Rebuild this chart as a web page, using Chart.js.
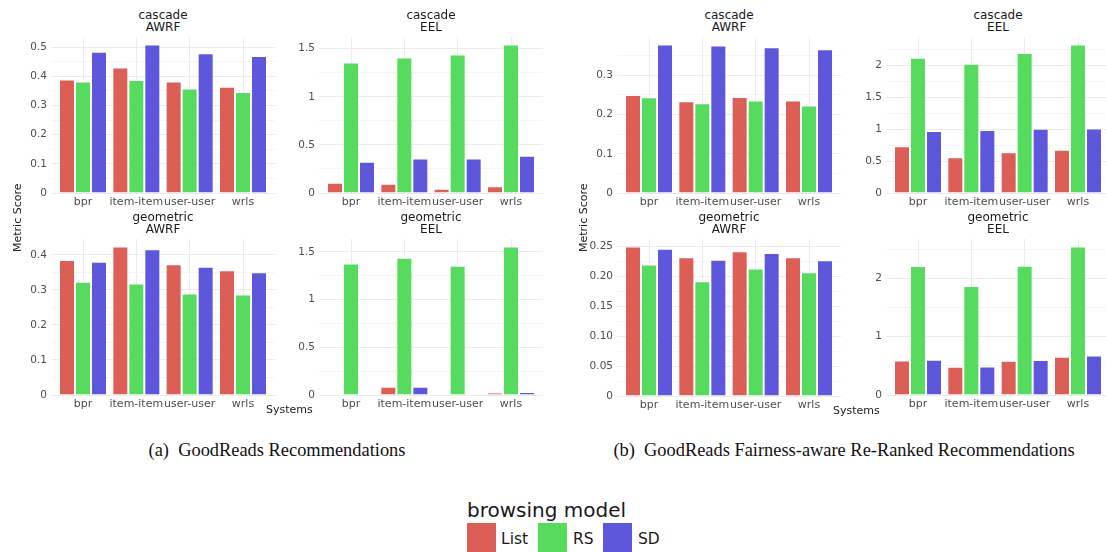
<!DOCTYPE html>
<html>
<head>
<meta charset="utf-8">
<script src="https://cdn.jsdelivr.net/npm/chart.js@4/dist/chart.umd.min.js"></script>
<style>
body { margin: 0; background: #fff; }
#fig { position: relative; width: 1106px; height: 552px; overflow: hidden; font-family: "DejaVu Sans", sans-serif; }
canvas { position: absolute; }
.strip { position: absolute; text-align: center; font-size: 12px; line-height: 12px; color: #1a1a1a; width: 200px; }
.axt { position: absolute; font-size: 11px; color: #1a1a1a; white-space: nowrap; }
.cap { position: absolute; font-family: "Liberation Serif", "DejaVu Serif", serif; font-size: 18.4px; color: #111; white-space: nowrap; transform: translateX(-50%); }
.legtitle { position: absolute; left: 467px; top: 498px; font-size: 20px; color: #1a1a1a; }
.key { position: absolute; top: 523px; width: 29px; height: 29px; }
.keylab { position: absolute; top: 530px; font-size: 15.5px; color: #1a1a1a; }
</style>
</head>
<body>
<div id="fig">
  <div class="legtitle">browsing model</div>
  <div class="key" style="left:467px;background:#DB5F57"></div><div class="keylab" style="left:501px">List</div>
  <div class="key" style="left:538px;background:#57DB5E"></div><div class="keylab" style="left:573px">RS</div>
  <div class="key" style="left:603px;background:#5E57DB"></div><div class="keylab" style="left:638px">SD</div>
</div>
<script>
// systems on the x axis and browsing models (series)
const systems = ['bpr', 'item-item', 'user-user', 'wrls'];
const models = ['List', 'RS', 'SD'];
const modelColors = ['#DB5F57', '#57DB5E', '#5E57DB'];

// (a) GoodReads Recommendations -- rows: List, RS, SD
const grCascadeAWRF = [
    [0.389, 0.430, 0.382, 0.364],
    [0.382, 0.387, 0.358, 0.346],
    [0.484, 0.509, 0.479, 0.469]
];
const grCascadeEEL = [
    [0.107, 0.097, 0.045, 0.069],
    [1.358, 1.410, 1.441, 1.545],
    [0.326, 0.360, 0.360, 0.388]
];
const grGeometricAWRF = [
    [0.385, 0.424, 0.373, 0.356],
    [0.323, 0.318, 0.290, 0.287],
    [0.380, 0.416, 0.366, 0.350]
];
const grGeometricEEL = [
    [0.007, 0.087, 0.005, 0.025],
    [1.378, 1.437, 1.353, 1.556],
    [0.007, 0.087, 0.005, 0.031]
];

// (b) GoodReads Fairness-aware Re-Ranked Recommendations
const rrCascadeAWRF = [
    [0.250, 0.234, 0.245, 0.236],
    [0.244, 0.229, 0.236, 0.223],
    [0.379, 0.376, 0.372, 0.367]
];
const rrCascadeEEL = [
    [0.731, 0.559, 0.637, 0.679],
    [2.120, 2.026, 2.193, 2.329],
    [0.971, 0.987, 1.008, 1.013]
];
const rrGeometricAWRF = [
    [0.250, 0.232, 0.242, 0.232],
    [0.220, 0.192, 0.213, 0.207],
    [0.246, 0.228, 0.239, 0.227]
];
const rrGeometricEEL = [
    [0.593, 0.484, 0.587, 0.655],
    [2.211, 1.869, 2.217, 2.547],
    [0.604, 0.490, 0.598, 0.678]
];

// y tick values and their labels
const ticksTenth = [0, 0.1, 0.2, 0.3, 0.4, 0.5];
const labelsTenth = ['0', '0.1', '0.2', '0.3', '0.4', '0.5'];
const ticksHalf = [0, 0.5, 1, 1.5, 2];
const labelsHalf = ['0', '0.5', '1', '1.5', '2'];
const ticksTwentieth = [0, 0.05, 0.1, 0.15, 0.2, 0.25];
const labelsTwentieth = ['0', '0.05', '0.10', '0.15', '0.20', '0.25'];
const ticksUnit = [0, 1, 2];
const labelsUnit = ['0', '1', '2'];

const YW = 45;   // room for y tick labels
const XH = 22;   // room for x tick labels
const fig = document.getElementById('fig');

// panel layout: plot box in page pixels
const panels = [
    {facet: 'cascade', metric: 'AWRF', data: grCascadeAWRF, ticks: ticksTenth, labels: labelsTenth, left: 51, top: 37, right: 275, bottom: 193},
    {facet: 'cascade', metric: 'EEL', data: grCascadeEEL, ticks: ticksHalf, labels: labelsHalf, left: 319, top: 37, right: 543, bottom: 193},
    {facet: 'geometric', metric: 'AWRF', data: grGeometricAWRF, ticks: ticksTenth, labels: labelsTenth, left: 51, top: 239, right: 275, bottom: 395},
    {facet: 'geometric', metric: 'EEL', data: grGeometricEEL, ticks: ticksHalf, labels: labelsHalf, left: 319, top: 239, right: 543, bottom: 395},
    {facet: 'cascade', metric: 'AWRF', data: rrCascadeAWRF, ticks: ticksTenth, labels: labelsTenth, left: 617, top: 37, right: 841, bottom: 193},
    {facet: 'cascade', metric: 'EEL', data: rrCascadeEEL, ticks: ticksHalf, labels: labelsHalf, left: 886, top: 37, right: 1110, bottom: 193},
    {facet: 'geometric', metric: 'AWRF', data: rrGeometricAWRF, ticks: ticksTwentieth, labels: labelsTwentieth, left: 617, top: 239, right: 841, bottom: 396},
    {facet: 'geometric', metric: 'EEL', data: rrGeometricEEL, ticks: ticksUnit, labels: labelsUnit, left: 886, top: 239, right: 1110, bottom: 395}
];

function addText(cls, text, css) {
    const d = document.createElement('div');
    d.className = cls;
    d.innerHTML = text;
    Object.assign(d.style, css);
    fig.appendChild(d);
    return d;
}

panels.forEach(p => {
    const canvas = document.createElement('canvas');
    const w = p.right - p.left + YW;
    const h = p.bottom - p.top + XH;
    canvas.width = w;
    canvas.height = h;
    canvas.style.left = (p.left - YW) + 'px';
    canvas.style.top = p.top + 'px';
    fig.appendChild(canvas);

    // facet strip title
    addText('strip', p.facet + '<br>' + p.metric, {
        left: ((p.left + p.right) / 2 - 100) + 'px',
        top: (p.top - 28) + 'px'
    });

    const yMax = Math.max(...p.data.flat()) * 1.05;
    // major ticks within range plus minor ticks halfway between them
    const major = p.ticks.filter(v => v <= yMax);
    const step = major[1] - major[0];
    const tickList = [];
    major.forEach((v, i) => {
        tickList.push({value: v, label: p.labels[i]});
        if (v + step / 2 < yMax) tickList.push({value: v + step / 2, label: ''});
    });

    new Chart(canvas.getContext('2d'), {
        type: 'bar',
        data: {
            datasets: models.map((m, k) => ({
                label: m,
                data: p.data[k].map((v, i) => ({x: i + 1, y: v})),
                backgroundColor: modelColors[k],
                borderColor: 'rgba(255,255,255,0.45)',
                borderWidth: 1,
                barPercentage: 1.0,
                categoryPercentage: 0.9
            }))
        },
        options: {
            responsive: false,
            animation: false,
            layout: {padding: 0},
            plugins: {legend: {display: false}, tooltip: {enabled: false}},
            scales: {
                x: {
                    type: 'linear',
                    min: 0.4,
                    max: 4.6,
                    offset: false,
                    afterBuildTicks: s => { s.ticks = systems.map((_, i) => ({value: i + 1})); },
                    afterFit: s => { s.height = XH; s.paddingLeft = 0; s.paddingRight = 0; },
                    ticks: {
                        callback: v => systems[v - 1],
                        autoSkip: false,
                        maxRotation: 0,
                        padding: 3,
                        color: '#4d4d4d',
                        font: {family: 'DejaVu Sans', size: 11}
                    },
                    grid: {color: '#ebebeb', drawTicks: false, offset: false},
                    border: {display: false}
                },
                y: {
                    min: 0,
                    max: yMax,
                    afterBuildTicks: s => { s.ticks = tickList.map(t => ({value: t.value})); },
                    afterFit: s => { s.width = YW; s.paddingTop = 0; s.paddingBottom = 0; },
                    ticks: {
                        callback: (v, i) => tickList[i].label,
                        autoSkip: false,
                        padding: 4,
                        color: '#4d4d4d',
                        font: {family: 'DejaVu Sans', size: 10.5}
                    },
                    grid: {
                        color: c => (c.tick && c.tick.label === '') ? '#f5f5f5' : '#ebebeb',
                        drawTicks: false
                    },
                    border: {display: false}
                }
            }
        }
    });
});

// axis titles
addText('axt', 'Metric Score', {left: '-17px', top: '211px', transform: 'rotate(-90deg)', width: '69px'});
addText('axt', 'Metric Score', {left: '549px', top: '211px', transform: 'rotate(-90deg)', width: '69px'});
addText('axt', 'Systems', {left: '266px', top: '403px'});
addText('axt', 'Systems', {left: '833px', top: '404px'});

// sub-figure captions
addText('cap', '(a)&nbsp;&nbsp;GoodReads Recommendations', {left: '277px', top: '440px'});
addText('cap', '(b)&nbsp;&nbsp;GoodReads Fairness-aware Re-Ranked Recommendations', {left: '844px', top: '440px'});
</script>
</body>
</html>
